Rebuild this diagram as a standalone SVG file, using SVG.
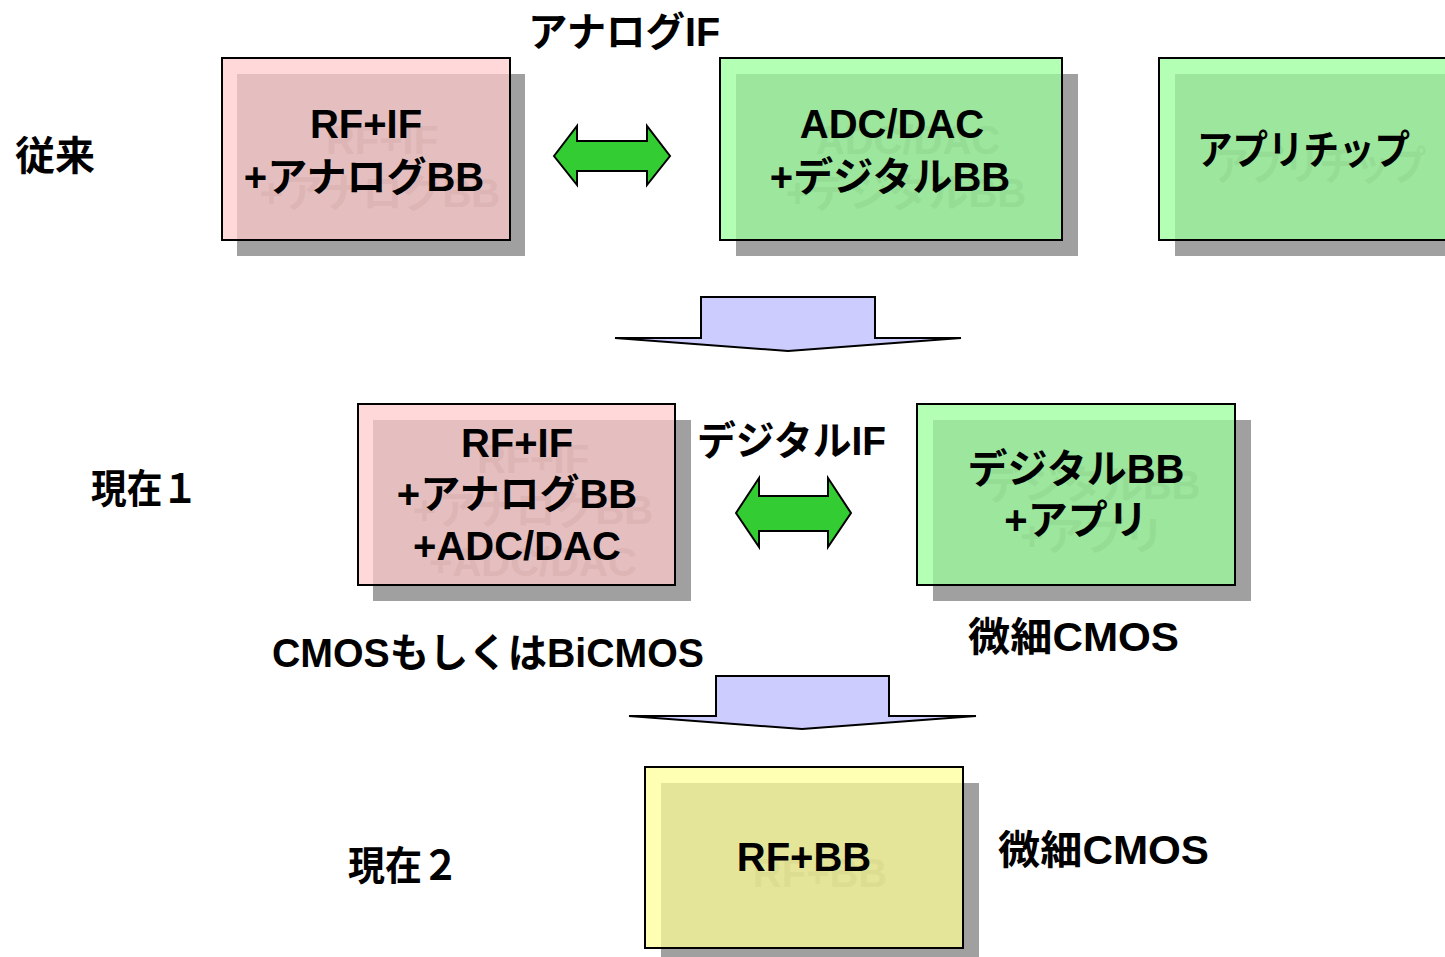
<svg xmlns="http://www.w3.org/2000/svg" width="1445" height="957" viewBox="0 0 1445 957">
<style>
text{font-family:"Liberation Sans","Noto Sans CJK JP",sans-serif;font-weight:bold;font-size:40px;fill:#000;}
.c{text-anchor:middle;}
.sh{fill:#A0A0A0;}
.bd{fill:none;stroke:#000;stroke-width:2;}
.pl{fill:#FFD9D9;} .pd{fill:#E5BFBF;} .pg{fill:#DDB5B5;}
.gl{fill:#B3FFB3;} .gd{fill:#9DE69D;} .gg{fill:#95DD95;}
.yl{fill:#FFFFB3;} .yd{fill:#E5E59A;} .yg{fill:#DDDD92;}
.dbl{fill:#33CC33;stroke:#000;stroke-width:2;stroke-linejoin:miter;}
.dn{fill:#CCCCFF;stroke:#000;stroke-width:2;}
</style>
<rect width="1445" height="957" fill="#fff"/>

<g id="label-juurai"><text x="15" y="170">従来</text></g>
<g id="label-analogIF"><text x="528" y="46" textLength="192" lengthAdjust="spacingAndGlyphs">アナログIF</text></g>
<g id="label-genzai1"><text x="91" y="503" textLength="107" lengthAdjust="spacingAndGlyphs">現在１</text></g>
<g id="label-digitalIF"><text x="697" y="455" textLength="189" lengthAdjust="spacingAndGlyphs">デジタルIF</text></g>
<g id="label-cmos-bicmos"><text x="272" y="667" textLength="432" lengthAdjust="spacingAndGlyphs">CMOSもしくはBiCMOS</text></g>
<g id="label-bisai1"><text x="968" y="651" textLength="211" lengthAdjust="spacingAndGlyphs">微細CMOS</text></g>
<g id="label-genzai2"><text x="348" y="880" textLength="111" lengthAdjust="spacingAndGlyphs">現在２</text></g>
<g id="label-bisai2"><text x="998" y="864" textLength="211" lengthAdjust="spacingAndGlyphs">微細CMOS</text></g>

<g id="box-rfif-analog">
<rect class="sh" x="237" y="74" width="288" height="182"/>
<rect class="pl" x="222" y="58" width="288" height="182"/>
<rect class="pd" x="237" y="74" width="273" height="166"/>
<text class="c pg" x="382" y="154">RF+IF</text>
<text class="c pg" x="380" y="207">+アナログBB</text>
<text class="c" x="366" y="138">RF+IF</text>
<text class="c" x="364" y="191">+アナログBB</text>
<rect class="bd" x="222" y="58" width="288" height="182"/>
</g>

<g id="box-adc-digital">
<rect class="sh" x="736" y="74" width="342" height="182"/>
<rect class="gl" x="720" y="58" width="342" height="182"/>
<rect class="gd" x="736" y="74" width="326" height="166"/>
<text class="c gg" x="908" y="154">ADC/DAC</text>
<text class="c gg" x="906" y="207">+デジタルBB</text>
<text class="c" x="892" y="138">ADC/DAC</text>
<text class="c" x="890" y="191">+デジタルBB</text>
<rect class="bd" x="720" y="58" width="342" height="182"/>
</g>

<g id="box-appchip">
<rect class="sh" x="1175" y="74" width="300" height="182"/>
<rect class="gl" x="1159" y="58" width="300" height="182"/>
<rect class="gd" x="1175" y="74" width="284" height="166"/>
<text class="gg" x="1213" y="180" textLength="213" lengthAdjust="spacingAndGlyphs">アプリチップ</text>
<text x="1197" y="164" textLength="213" lengthAdjust="spacingAndGlyphs">アプリチップ</text>
<rect class="bd" x="1159" y="58" width="300" height="182"/>
</g>

<g id="box-rfif-adc">
<rect class="sh" x="373" y="420" width="318" height="181"/>
<rect class="pl" x="358" y="404" width="317" height="181"/>
<rect class="pd" x="373" y="420" width="302" height="165"/>
<text class="c pg" x="533" y="473">RF+IF</text>
<text class="c pg" x="533" y="524">+アナログBB</text>
<text class="c pg" x="533" y="576">+ADC/DAC</text>
<text class="c" x="517" y="457">RF+IF</text>
<text class="c" x="517" y="508">+アナログBB</text>
<text class="c" x="517" y="560">+ADC/DAC</text>
<rect class="bd" x="358" y="404" width="317" height="181"/>
</g>

<g id="box-digitalbb-app">
<rect class="sh" x="933" y="420" width="318" height="181"/>
<rect class="gl" x="917" y="404" width="318" height="181"/>
<rect class="gd" x="933" y="420" width="302" height="165"/>
<text class="c gg" x="1092" y="499">デジタルBB</text>
<text class="c gg" x="1092" y="550">+アプリ</text>
<text class="c" x="1076" y="483">デジタルBB</text>
<text class="c" x="1076" y="534">+アプリ</text>
<rect class="bd" x="917" y="404" width="318" height="181"/>
</g>

<g id="box-rfbb">
<rect class="sh" x="661" y="783" width="318" height="181"/>
<rect class="yl" x="645" y="767" width="318" height="181"/>
<rect class="yd" x="661" y="783" width="302" height="165"/>
<text class="c yg" x="820" y="887">RF+BB</text>
<text class="c" x="804" y="871">RF+BB</text>
<rect class="bd" x="645" y="767" width="318" height="181"/>
</g>

<g id="connectors">
<polygon class="dbl" points="554,156 577,126 577,141 647,141 647,126 670,156 647,185 647,171 577,171 577,185"/>
<polygon class="dbl" points="736,513 759,478 759,496 828,496 828,478 851,513 828,547 828,531 759,531 759,547"/>
<polygon class="dn" points="701,297 875,297 875,338 961,338 788,351 615,338 701,338"/>
<polygon class="dn" points="716,676 889,676 889,716 976,716 802,729 629,716 716,716"/>
</g>
</svg>
